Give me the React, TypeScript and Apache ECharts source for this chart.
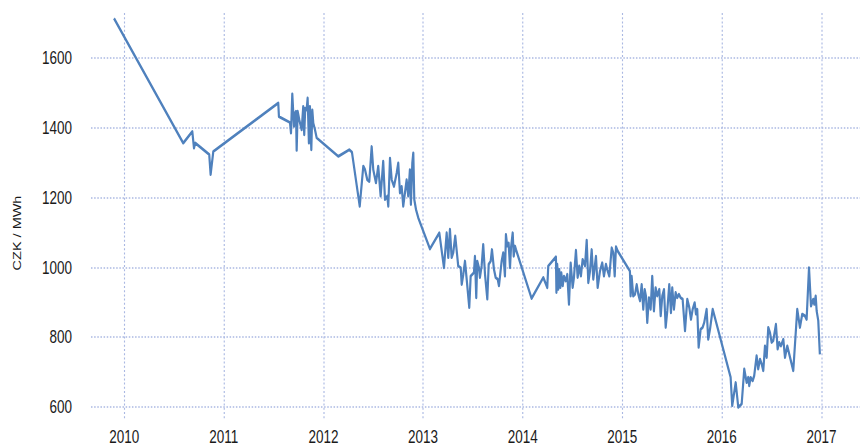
import React, { useEffect, useRef } from "react";
import * as echarts from "echarts";

// Time in decimal years
const timeYears: number[] = [
  2009.897, 2010.592, 2010.683, 2010.7, 2010.713, 2010.853, 2010.867, 2010.894,
  2011.546, 2011.553, 2011.664, 2011.674, 2011.687, 2011.704, 2011.714, 2011.724,
  2011.731, 2011.741, 2011.757, 2011.781, 2011.797, 2011.807, 2011.817, 2011.831,
  2011.841, 2011.854, 2011.864, 2011.878, 2011.888, 2011.898, 2011.915, 2011.932,
  2012.149, 2012.259, 2012.286, 2012.364, 2012.4, 2012.417, 2012.44, 2012.46,
  2012.484, 2012.5, 2012.527, 2012.55, 2012.574, 2012.6, 2012.618, 2012.641,
  2012.651, 2012.668, 2012.685, 2012.708, 2012.735, 2012.751, 2012.768, 2012.785,
  2012.801, 2012.818, 2012.835, 2012.851, 2012.868, 2012.878, 2012.892, 2012.902,
  2012.912, 2012.929, 2012.952,
  2013.069, 2013.163, 2013.21, 2013.237, 2013.253, 2013.27, 2013.287, 2013.303,
  2013.323, 2013.353, 2013.378, 2013.388, 2013.404, 2013.421, 2013.438, 2013.464,
  2013.478, 2013.511, 2013.521, 2013.534, 2013.544, 2013.561, 2013.571, 2013.588,
  2013.604, 2013.622, 2013.645, 2013.659, 2013.679, 2013.692, 2013.712, 2013.729,
  2013.749, 2013.762, 2013.789, 2013.805, 2013.822, 2013.832, 2013.845, 2013.859,
  2013.873, 2013.883, 2013.9, 2013.91, 2013.923, 2013.933,
  2014.09, 2014.207, 2014.247, 2014.257, 2014.334, 2014.339, 2014.347, 2014.357,
  2014.367, 2014.378, 2014.388, 2014.402, 2014.415, 2014.432, 2014.448, 2014.465,
  2014.482, 2014.502, 2014.515, 2014.535, 2014.552, 2014.568, 2014.585, 2014.602,
  2014.626, 2014.643, 2014.659, 2014.676, 2014.693, 2014.709, 2014.736, 2014.753,
  2014.776, 2014.799, 2014.816, 2014.836, 2014.849, 2014.87, 2014.894, 2014.91,
  2014.924, 2014.937, 2014.954,
  2015.077, 2015.084, 2015.094, 2015.11, 2015.128, 2015.145, 2015.161, 2015.178,
  2015.195, 2015.211, 2015.225, 2015.238, 2015.251, 2015.268, 2015.285, 2015.301,
  2015.318, 2015.335, 2015.351, 2015.372, 2015.386, 2015.402, 2015.419, 2015.436,
  2015.452, 2015.472, 2015.489, 2015.502, 2015.519, 2015.536, 2015.552, 2015.569,
  2015.586, 2015.606, 2015.63, 2015.653, 2015.673, 2015.69, 2015.707, 2015.727,
  2015.74, 2015.753, 2015.767, 2015.787, 2015.807, 2015.823, 2015.847, 2015.863,
  2015.881, 2015.908,
  2016.088, 2016.104, 2016.139, 2016.165, 2016.199, 2016.225, 2016.249, 2016.265,
  2016.275, 2016.289, 2016.309, 2016.325, 2016.349, 2016.365, 2016.383, 2016.4,
  2016.416, 2016.433, 2016.45, 2016.466, 2016.483, 2016.5, 2016.516, 2016.543,
  2016.56, 2016.576, 2016.593, 2016.617, 2016.634, 2016.657, 2016.677, 2016.717,
  2016.757, 2016.784, 2016.807, 2016.834, 2016.851, 2016.875, 2016.895, 2016.918,
  2016.928, 2016.942, 2016.952, 2016.968, 2016.984,
];

// Price in CZK / MWh
const priceCZK: number[] = [
  1713, 1356, 1389, 1342, 1356, 1323, 1266, 1332,
  1471, 1432, 1415, 1385, 1497, 1404, 1442, 1447,
  1335, 1447, 1423, 1394, 1461, 1380, 1456, 1451,
  1485, 1356, 1461, 1337, 1451, 1413, 1394, 1371,
  1318, 1337, 1330, 1175, 1290, 1280, 1251, 1246,
  1346, 1280, 1242, 1290, 1204, 1304, 1194, 1204,
  1175, 1313, 1251, 1232, 1270, 1299, 1213, 1232,
  1175, 1213, 1251, 1204, 1280, 1180, 1299, 1328,
  1194, 1166, 1142,
  1053, 1099, 999, 1099, 1028, 1109, 1028, 1042,
  1090, 1004, 999, 951, 980, 1018, 966, 885,
  975, 985, 1032, 913, 1018, 999, 971, 1004,
  1066, 980, 909, 1009, 1018, 1051, 994, 971,
  966, 947, 1018, 1042, 975, 1094, 1061, 1070,
  999, 1056, 1099, 1032, 1061, 1051,
  911, 971, 942, 1004, 1030, 928, 1009, 937,
  994, 942, 985, 947, 975, 961, 980, 894,
  1013, 942, 971, 1049, 971, 1004, 975, 1023,
  1004, 1078, 956, 989, 1051, 966, 1032, 942,
  989, 1013, 975, 1009, 994, 975, 1056, 1042,
  975, 1059, 1047,
  989, 918, 975, 918, 923, 951, 923, 904,
  951, 880, 937, 918, 842, 913, 880, 975,
  875, 942, 918, 937, 861, 918, 937, 828,
  875, 951, 870, 942, 880, 928, 913, 923,
  913, 909, 818, 909, 885, 851, 880, 899,
  866, 880, 771, 823, 828, 842, 880, 794,
  823, 880,
  685, 604, 670, 599, 609, 709, 670, 685,
  661, 685, 675, 690, 747, 709, 737, 723,
  704, 775, 742, 828, 813, 785, 790, 837,
  766, 785, 775, 794, 742, 775, 751, 704,
  880, 828, 866, 861, 851, 999, 889, 909,
  894, 918, 875, 847, 751,
];

const yearTicks: number[] = [2010, 2011, 2012, 2013, 2014, 2015, 2016, 2017];
const priceTicks: number[] = [600, 800, 1000, 1200, 1400, 1600];

// The reference is horizontally condensed; draw wider and squeeze with CSS.
const SQUEEZE = 0.75;
const VIEW_W = 864;
const VIEW_H = 446;
const CHART_W = VIEW_W / SQUEEZE;

const FONT = "'Liberation Sans', Arial, sans-serif";
const GRID_COLOR = "#aab8e2";
const TEXT_COLOR = "#1a1a1a";

export default function App() {
  const ref = useRef<HTMLDivElement | null>(null);

  useEffect(() => {
    if (!ref.current) return;
    const chart = echarts.init(ref.current, null, { renderer: "svg" });
    const seriesData = timeYears.map((t, i) => [t, priceCZK[i]]);
    chart.setOption({
      animation: false,
      backgroundColor: "#ffffff",
      grid: { left: 91 / SQUEEZE, right: 4 / SQUEEZE, top: 13, bottom: 26, containLabel: false },
      xAxis: {
        type: "value",
        min: 2009.666,
        max: 2017.387,
        axisLine: { show: false },
        axisTick: { show: false, customValues: yearTicks },
        axisLabel: {
          customValues: yearTicks,
          formatter: (v: number) => String(Math.round(v)),
          color: TEXT_COLOR,
          fontFamily: FONT,
          fontSize: 18,
          margin: 9,
        },
        splitLine: {
          show: true,
          lineStyle: { color: GRID_COLOR, width: 1.5, type: [2, 2.2] },
        },
      },
      yAxis: {
        type: "value",
        min: 565.7,
        max: 1728.6,
        name: "CZK / MWh",
        nameLocation: "middle",
        nameRotate: 90,
        nameGap: 68 / SQUEEZE,
        nameTextStyle: { color: TEXT_COLOR, fontFamily: FONT, fontSize: 14.5, padding: [0, 0, 0, -34] },
        axisLine: { show: false },
        axisTick: { show: false, customValues: priceTicks },
        axisLabel: {
          customValues: priceTicks,
          formatter: (v: number) => String(Math.round(v)),
          color: TEXT_COLOR,
          fontFamily: FONT,
          fontSize: 18,
          margin: 19 / SQUEEZE,
        },
        splitLine: {
          show: true,
          lineStyle: { color: GRID_COLOR, width: 1.5, type: [2, 2.2] },
        },
      },
      series: [
        {
          type: "line",
          data: seriesData,
          showSymbol: false,
          symbol: "none",
          lineStyle: { color: "#4f81bd", width: 2.9, join: "round" },
          itemStyle: { color: "#4f81bd" },
        },
      ],
    });
    return () => chart.dispose();
  }, []);

  return (
    <div
      style={{
        position: "absolute",
        left: 0,
        top: 0,
        width: VIEW_W,
        height: VIEW_H,
        overflow: "hidden",
        background: "#fff",
      }}
    >
      <div
        ref={ref}
        style={{
          width: CHART_W,
          height: VIEW_H,
          transform: `scaleX(${SQUEEZE})`,
          transformOrigin: "0 0",
        }}
      />
    </div>
  );
}
